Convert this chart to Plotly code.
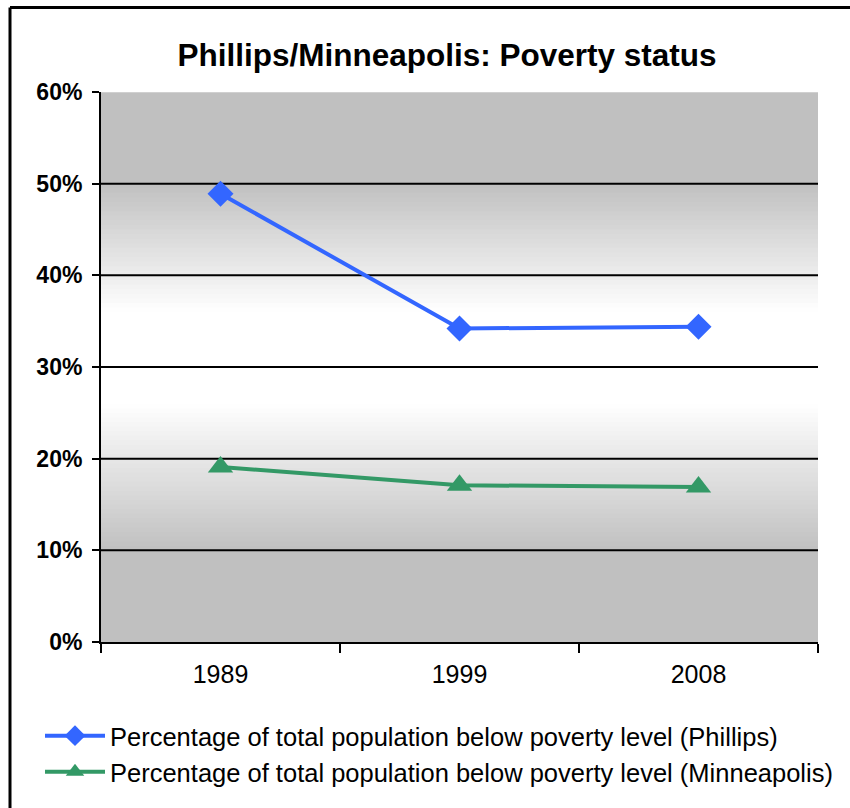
import plotly.graph_objects as go

years = ["1989", "1999", "2008"]
phillips = [48.9, 34.2, 34.4]
minneapolis = [19.1, 17.1, 16.9]
y_ticks = [0, 10, 20, 30, 40, 50, 60]
y_tick_labels = ["0%", "10%", "20%", "30%", "40%", "50%", "60%"]
grid_vals = [10, 20, 30, 40, 50]

name_p = "Percentage of total population below poverty level (Phillips)"
name_m = "Percentage of total population below poverty level (Minneapolis)"

fig = go.Figure()
fig.add_trace(go.Scatter(x=years, y=phillips, name=name_p, mode="lines+markers",
                         line=dict(color="#3366FF", width=4),
                         marker=dict(symbol="diamond", size=20, color="#3366FF")))
fig.add_trace(go.Scatter(x=years, y=minneapolis, name=name_m, mode="lines+markers",
                         line=dict(color="#339966", width=4),
                         marker=dict(symbol="triangle-up", size=22, color="#339966")))

# gradient background: gray at top/bottom, white in middle
shapes = []
def gray_at(v):
    if v >= 50:
        t = 0.0
    elif v >= 36:
        t = (50 - v) / 14
    elif v >= 26:
        t = 1.0
    elif v >= 10:
        t = (v - 10) / 16
    else:
        t = 0.0
    g = int(round(192 + (255 - 192) * t))
    return f"rgb({g},{g},{g})"

n = 120
for i in range(n):
    a = 60 * i / n
    b = 60 * (i + 1) / n
    shapes.append(dict(type="rect", xref="paper", yref="y", x0=0, x1=1, y0=a,
                       y1=min(60, b + 0.4),
                       fillcolor=gray_at((a + b) / 2), line=dict(width=0), layer="below"))
for g in grid_vals:
    shapes.append(dict(type="line", xref="paper", yref="y", x0=0, x1=1, y0=g, y1=g,
                       line=dict(color="black", width=2), layer="below"))
shapes.append(dict(type="line", xref="paper", yref="y", x0=0, x1=1, y0=60, y1=60,
                   line=dict(color="#e0e0e0", width=1), layer="below"))
# outer chart border (top and left)
shapes.append(dict(type="line", xref="paper", yref="paper", x0=(10 - 101) / 717, x1=(852 - 101) / 717,
                   y0=(645 - 7) / 553, y1=(645 - 7) / 553, line=dict(color="black", width=3)))
shapes.append(dict(type="line", xref="paper", yref="paper", x0=(10 - 101) / 717, x1=(10 - 101) / 717,
                   y0=(645 - 7) / 553, y1=(645 - 815) / 553, line=dict(color="black", width=3)))

fig.update_layout(
    width=850, height=808,
    margin=dict(l=101, r=32, t=92, b=163),
    paper_bgcolor="white", plot_bgcolor="rgba(0,0,0,0)",
    title=dict(text="<b>Phillips/Minneapolis: Poverty status</b>", x=(447 - 101) / 717, xref="paper",
               xanchor="center", y=(808 - 55) / 808, yanchor="middle",
               font=dict(family="Liberation Sans, Arial", size=31.5, color="black")),
    xaxis=dict(type="category", range=[-0.5, 2.5], showgrid=False, showline=True,
               linecolor="black", linewidth=2, ticks="outside", tickson="boundaries",
               ticklen=9, tickwidth=2, tickcolor="black", ticklabelstandoff=9,
               tickfont=dict(family="Liberation Sans, Arial", size=25, color="black")),
    yaxis=dict(range=[0, 60], tickvals=y_ticks, ticktext=y_tick_labels, showgrid=False,
               showline=True, linecolor="black", linewidth=2, ticks="outside", ticklen=7,
               tickwidth=2, tickcolor="black", zeroline=False, ticklabelstandoff=5,
               tickfont=dict(family="Liberation Sans, Arial", size=23, color="black", weight="bold")),
    legend=dict(x=(40 - 101) / 717, y=(645 - 716) / 553, xanchor="left", yanchor="top",
                font=dict(family="Liberation Sans, Arial", size=25.5, color="black"),
                bgcolor="rgba(0,0,0,0)", itemwidth=60),
    shapes=shapes,
)

fig.write_html("out.html", config={"displayModeBar": False},
               post_script="document.body.style.margin='0';")
